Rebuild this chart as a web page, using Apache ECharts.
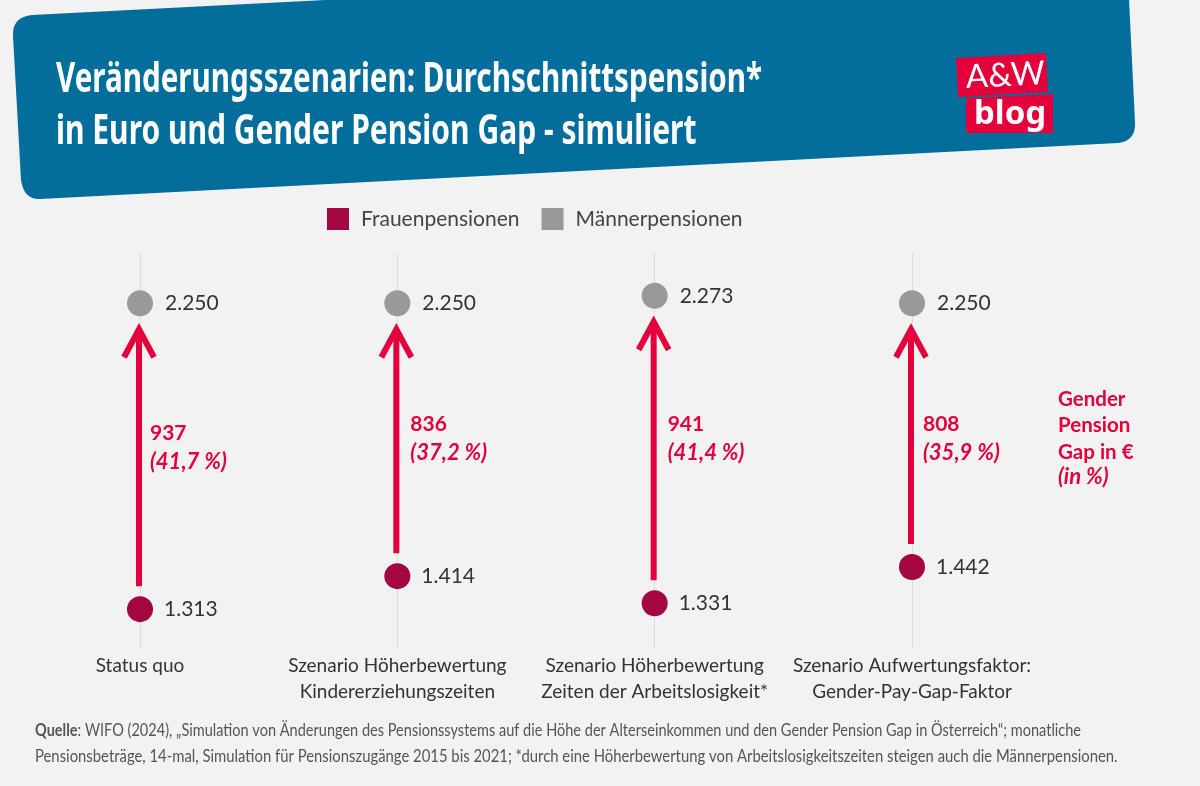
<!DOCTYPE html>
<html>
<head>
<meta charset="utf-8">
<style>
html, body { margin: 0; padding: 0; background: #f2f2f2; }
#charts { width: 1200px; height: 786px; }
</style>
<script src="https://cdn.jsdelivr.net/npm/echarts@6/dist/echarts.min.js"></script>
</head>
<body>
<div id="charts"></div>
<script>
var categories = ["Status quo", "Szenario Höherbewertung\nKindererziehungszeiten", "Szenario Höherbewertung\nZeiten der Arbeitslosigkeit*", "Szenario Aufwertungsfaktor:\nGender-Pay-Gap-Faktor"];
var frauen = [1313, 1414, 1331, 1442];
var maenner = [2250, 2250, 2273, 2250];
var gapEuro = ["937", "836", "941", "808"];
var gapProzent = ["(41,7 %)", "(37,2 %)", "(41,4 %)", "(35,9 %)"];

var fontBody = "Lato";
var red = "#e4003a";

// 1.313 statt 1313
function punkt(v) {
	return String(v).replace(/(\d)(\d{3})$/, "$1.$2");
}

var arrowData = categories.map(function(c, i) {
	return [i, frauen[i], maenner[i]];
});
// Beschriftung sitzt nicht exakt mittig, daher je Pfeil eigene Lage
var gapTextTop = [423, 414, 414, 414];
var gapTextLeft = [11, 14, 14, 12];

function renderArrow(params, api) {
	var i = api.value(0);
	var low = api.coord([i, api.value(1)]);
	var high = api.coord([i, api.value(2)]);
	var x = low[0] - 1;
	var tip = high[1] + 26;
	var bottom = low[1] - 23;
	return {
		type: "group",
		children: [{
			type: "line",
			shape: { x1: x, y1: bottom, x2: x, y2: tip + 4 },
			style: { stroke: red, lineWidth: 6 }
		}, {
			type: "polyline",
			shape: { points: [[x - 15, tip + 28], [x, tip], [x + 15, tip + 28]] },
			style: { stroke: red, fill: null, lineWidth: 6, lineJoin: "miter" }
		}, {
			type: "text",
			x: x + gapTextLeft[i],
			y: gapTextTop[i],
			style: { text: gapEuro[i], fill: red, font: "bold 21px " + fontBody }
		}, {
			type: "text",
			x: x + gapTextLeft[i],
			y: gapTextTop[i] + 28,
			style: { text: gapProzent[i], fill: red, font: "italic bold 22px " + fontBody }
		}]
	};
}

// Banner ist leicht schief mit runden Ecken
echarts.graphic.registerShape("banner", echarts.graphic.extendPath("M32 15 L345 -1 L1129 -1 L1135 122 Q1136 141 1118 143 L40 199 Q24 200 21 180 L13 36 Q12 17 32 15 Z"));

var chart = echarts.init(document.getElementById("charts"));
chart.setOption({
	backgroundColor: "#f2f2f2",
	animation: false,
	grid: { left: 140, right: 288, top: 253, bottom: 138 },
	legend: {
		data: ["Frauenpensionen", "Männerpensionen"],
		left: 327,
		top: 208,
		padding: 0,
		icon: "rect",
		itemWidth: 22,
		itemHeight: 22,
		itemGap: 22,
		textStyle: { fontFamily: fontBody, fontSize: 21, color: "#444", padding: [0, 0, 0, 7] }
	},
	xAxis: {
		type: "category",
		data: categories,
		boundaryGap: false,
		axisLine: { show: false },
		axisTick: { show: false },
		splitLine: { show: true, interval: 0, lineStyle: { color: "#dcdcdc", width: 1 } },
		axisLabel: {
			interval: 0,
			margin: 5,
			fontFamily: fontBody,
			fontSize: 19,
			lineHeight: 26,
			color: "#333"
		}
	},
	yAxis: { type: "value", min: 1194, max: 2404, show: false, splitLine: { show: false } },
	series: [{
		type: "custom",
		name: "Gap",
		data: arrowData,
		renderItem: renderArrow,
		silent: true,
		z: 3
	}, {
		name: "Frauenpensionen",
		type: "scatter",
		data: frauen,
		symbolSize: 26,
		itemStyle: { color: "#a30640", opacity: 1 },
		label: { show: true, position: "right", distance: 11, fontFamily: fontBody, fontSize: 21, color: "#333", formatter: function(p) { return punkt(p.value); } },
		z: 4
	}, {
		name: "Männerpensionen",
		type: "scatter",
		data: maenner,
		symbolSize: 26,
		itemStyle: { color: "#999999", opacity: 1 },
		label: { show: true, position: "right", distance: 12, fontFamily: fontBody, fontSize: 21, color: "#333", formatter: function(p) { return punkt(p.value); } },
		z: 4
	}],
	graphic: { elements: [{
		type: "banner",
		z: 1,
		style: { fill: "#036e9b" }
	}, {
		type: "text", z: 2, x: 56, y: 59, scaleX: 0.705,
		style: { text: "Veränderungsszenarien: Durchschnittspension*", fill: "#fff", font: "bold 42px 'Noto Sans'" }
	}, {
		type: "text", z: 2, x: 56, y: 111, scaleX: 0.715,
		style: { text: "in Euro und Gender Pension Gap - simuliert", fill: "#fff", font: "bold 42px 'Noto Sans'" }
	}, {
		type: "polygon", z: 2,
		shape: { points: [[956, 58], [1046, 53], [1048, 92], [958, 97]] },
		style: { fill: red }
	}, {
		type: "polygon", z: 2,
		shape: { points: [[966, 98], [1053, 94], [1053, 133], [966, 133]] },
		style: { fill: red }
	}, {
		type: "text", z: 3, x: 965, y: 61, rotation: 0.05,
		style: { text: "A&W", fill: "#fff", font: "33px Lato" }
	}, {
		type: "text", z: 3, x: 974, y: 98,
		style: { text: "blog", fill: "#fff", font: "bold 33px 'Noto Sans'" }
	}, {
		type: "text", z: 3, x: 1058, y: 386,
		style: { text: "Gender\nPension\nGap in €", fill: red, font: "bold 20.5px " + fontBody, lineHeight: 26.5 }
	}, {
		type: "text", z: 3, x: 1058, y: 466,
		style: { text: "(in %)", fill: red, font: "italic bold 22px " + fontBody }
	}, {
		type: "text", z: 3, x: 35, y: 722, scaleX: 0.881,
		style: {
			text: "{b|Quelle}: WIFO (2024), „Simulation von Änderungen des Pensionssystems auf die Höhe der Alterseinkommen und den Gender Pension Gap in Österreich“; monatliche",
			fill: "#555", font: "16.5px " + fontBody,
			rich: { b: { fontFamily: fontBody, fontSize: 16.5, fontWeight: "bold", fill: "#555" } }
		}
	}, {
		type: "text", z: 3, x: 35, y: 748, scaleX: 0.9,
		style: {
			text: "Pensionsbeträge, 14-mal, Simulation für Pensionszugänge 2015 bis 2021; *durch eine Höherbewertung von Arbeitslosigkeitszeiten steigen auch die Männerpensionen.",
			fill: "#555", font: "16.5px " + fontBody
		}
	}] }
});
</script>
</body>
</html>
